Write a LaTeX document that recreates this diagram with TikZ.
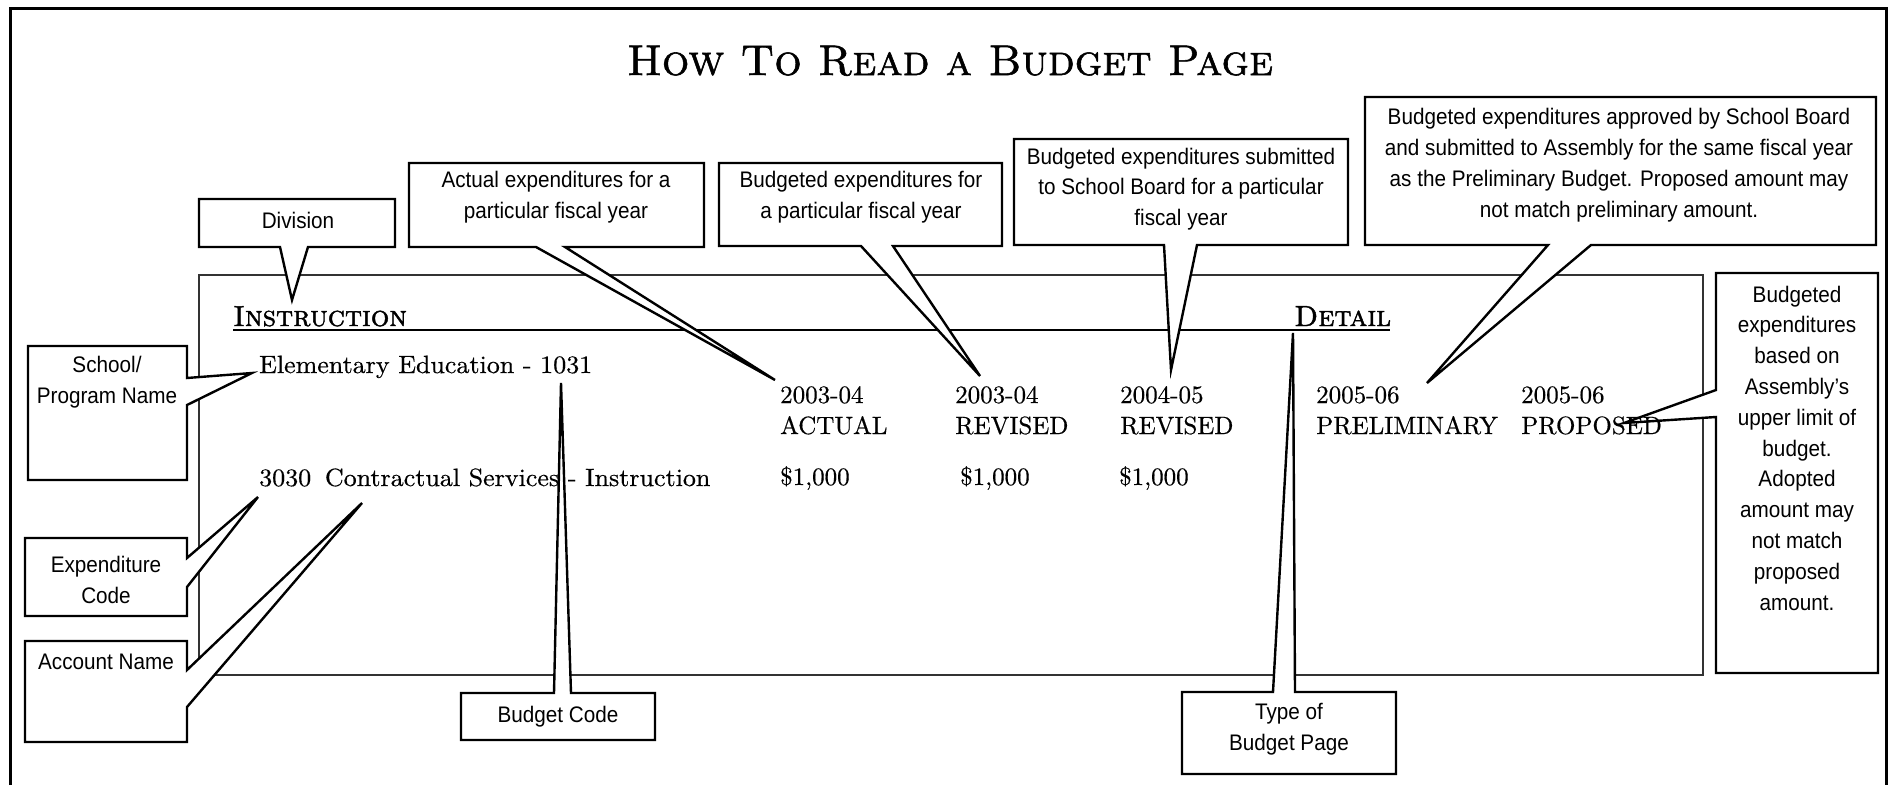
\documentclass[tikz,border=0pt]{standalone}
\usepackage{fontspec}
\newfontfamily\callfont[FakeStretch=0.92]{Liberation Sans}
\newfontfamily\bodyserif[FakeBold=0.5]{lmroman10-regular.otf}
\newfontfamily\bodywide[FakeBold=0.5,FakeStretch=1.04]{lmroman10-regular.otf}
\newfontfamily\capsserif[FakeBold=1.3]{lmromancaps10-regular.otf}
\newfontfamily\capsbold[FakeBold=1.6]{lmromancaps10-regular.otf}
\begin{document}
\begin{tikzpicture}[x=1pt,y=-1pt,
  callout/.style={draw=black, line width=2.4pt, line join=miter},
  pageline/.style={draw=black!80, line width=1.8pt},
  ctext/.style={font=\callfont\fontsize{22.5}{30.8}\selectfont, align=center, inner sep=0pt},
  stext/.style={font=\bodyserif\fontsize{25}{30}\selectfont, anchor=base west, inner sep=0pt},
  wtext/.style={font=\bodywide\fontsize{25}{30}\selectfont, anchor=base west, inner sep=0pt},
  hdr/.style={font=\capsbold\fontsize{29}{32}\selectfont, anchor=base west, inner sep=0pt},
  ttl/.style={font=\capsserif\fontsize{43}{46}\selectfont, anchor=base, inner sep=0pt}]
\useasboundingbox (0,0) rectangle (1890,785);
\fill[white] (0,0) rectangle (1890,785);
% outer frame (open at bottom)
\draw[line width=3pt] (10,785) -- (10,8) -- (1886,8) -- (1886,785);
% title
\node[ttl] (title) at (950,75) {How To Read a Budget Page};
% budget page
\draw[pageline] (199,275) rectangle (1703,675);
\coordinate (ruleL) at (233,330);
\coordinate (ruleR) at (1390,330);
\draw[line width=2.2pt] (ruleL) -- (ruleR);
% tips
\coordinate (tipDiv) at (292,300);
\coordinate (tipAct) at (775,380);
\coordinate (tipBud) at (980,376);
\coordinate (tipSub) at (1171,370);
\coordinate (tipApp) at (1427,383);
\coordinate (tipAsm) at (1624,423);
\coordinate (tipSch) at (252,373);
\coordinate (tipExp) at (258,497);
\coordinate (tipAcc) at (362,503);
\coordinate (tipBC) at (561,383);
\coordinate (tipType) at (1293,333);
% callout shapes
\def\pDiv{(199,199) -- (395,199) -- (395,247) -- (308,247) -- (tipDiv) -- (280,247) -- (199,247) -- cycle}
\def\pAct{(409,163) -- (704,163) -- (704,247) -- (565,247) -- (tipAct) -- (536,247) -- (409,247) -- cycle}
\def\pBud{(719,163) -- (1002,163) -- (1002,246) -- (893,246) -- (tipBud) -- (861,246) -- (719,246) -- cycle}
\def\pSub{(1014,139) -- (1348,139) -- (1348,245) -- (1197,245) -- (tipSub) -- (1164,245) -- (1014,245) -- cycle}
\def\pApp{(1365,97) -- (1876,97) -- (1876,245) -- (1591,245) -- (tipApp) -- (1548,245) -- (1365,245) -- cycle}
\def\pAsm{(1716,273) -- (1878,273) -- (1878,673) -- (1716,673) -- (1716,417) -- (tipAsm) -- (1716,390) -- cycle}
\def\pSch{(28,346) -- (187,346) -- (187,378) -- (tipSch) -- (187,405) -- (187,480) -- (28,480) -- cycle}
\def\pExp{(25,538) -- (187,538) -- (187,558) -- (tipExp) -- (187,587) -- (187,616) -- (25,616) -- cycle}
\def\pAcc{(25,641) -- (187,641) -- (187,670) -- (tipAcc) -- (187,707) -- (187,742) -- (25,742) -- cycle}
\def\pBC{(461,693) -- (554,693) -- (tipBC) -- (571,693) -- (655,693) -- (655,740) -- (461,740) -- cycle}
\def\pType{(1182,692) -- (1273,692) -- (tipType) -- (1295,692) -- (1396,692) -- (1396,774) -- (1182,774) -- cycle}
\foreach \p in {\pDiv,\pAct,\pBud,\pSub,\pApp,\pAsm,\pSch,\pExp,\pAcc,\pBC,\pType}{\fill[white] \p;}
% page contents
\node[hdr] (instr) at (233,326) {Instruction};
\node[hdr] (detail) at (1294,326) {Detail};
\node[wtext] (elem) at (259,373) {Elementary Education - 1031};
\node[wtext] (acct) at (259,486) {3030\hspace{0.55em}Contractual Services - Instruction};
\node[stext] (y1) at (780,403) {2003-04};
\node[stext] (h1) at (780,434) {ACTUAL};
\node[stext] (v1) at (780,485) {\$1,000};
\node[stext] (y2) at (955,403) {2003-04};
\node[stext] (h2) at (955,434) {REVISED};
\node[stext] (v2) at (960,485) {\$1,000};
\node[stext] (y3) at (1120,403) {2004-05};
\node[stext] (h3) at (1120,434) {REVISED};
\node[stext] (v3) at (1119,485) {\$1,000};
\node[stext] (y4) at (1316,403) {2005-06};
\node[stext] (h4) at (1316,434) {PRELIMINARY};
\node[stext] (y5) at (1521,403) {2005-06};
\node[stext] (h5) at (1521,434) {PROPOSED};
% callout outlines
\foreach \p in {\pDiv,\pAct,\pBud,\pSub,\pApp,\pAsm,\pSch,\pExp,\pAcc,\pBC,\pType}{\draw[callout] \p;}
% callout texts
\node[ctext] (tDiv) at (298,220) {Division};
\node[ctext] (tAct) at (556,197) {Actual expenditures for a\\particular fiscal year};
\node[ctext] (tBud) at (861,197) {Budgeted expenditures for\\a particular fiscal year};
\node[ctext] (tSub) at (1181,189) {Budgeted expenditures submitted\\to School Board for a particular\\fiscal year};
\node[ctext] (tApp) at (1619,165) {Budgeted expenditures approved by School Board\\and submitted to Assembly for the same fiscal year\\as the Preliminary Budget. Proposed amount may\\not match preliminary amount.};
\node[ctext] (tAsm) at (1797,448) {Budgeted\\expenditures\\based on\\Assembly’s\\upper limit of\\budget.\\Adopted\\amount may\\not match\\proposed\\amount.};
\node[ctext] (tSch) at (107,382) {School/\\Program Name};
\node[ctext] (tExp) at (106,580) {Expenditure\\Code};
\node[ctext] (tAcc) at (106,662) {Account Name};
\node[ctext] (tBC) at (558,717) {Budget Code};
\node[ctext] (tType) at (1289,729) {Type of\\Budget Page};
\end{tikzpicture}
\end{document}
